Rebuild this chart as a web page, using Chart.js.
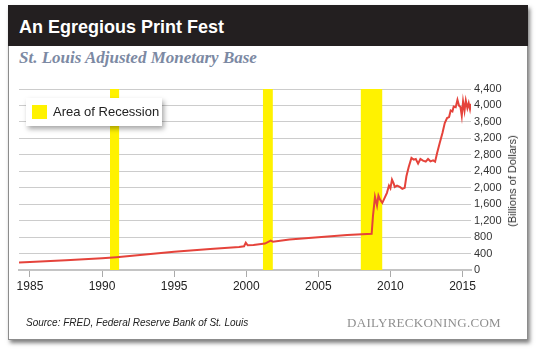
<!DOCTYPE html>
<html>
<head>
<meta charset="utf-8">
<script src="https://cdn.jsdelivr.net/npm/chart.js@4/dist/chart.umd.min.js"></script>
<style>
body { margin:0; background:#fff; width:540px; height:351px; position:relative; overflow:hidden; font-family:'Liberation Sans', Arial, sans-serif; }
.frame { position:absolute; left:8px; top:5px; width:518px; height:333px; background:#fff; border:1px solid #8c8c8c; box-shadow:2px 3px 4px rgba(0,0,0,0.5); }
.header { position:absolute; left:8px; top:5px; width:520px; height:41px; background:#231f20; }
.title { position:absolute; left:19px; top:17px; color:#fff; font:bold 18px 'Liberation Sans', Arial, sans-serif; white-space:nowrap; }
.subtitle { position:absolute; left:19px; top:48px; color:#7c89a3; font:italic bold 17px 'Liberation Serif', 'DejaVu Serif', serif; white-space:nowrap; }
#chart { position:absolute; left:0; top:0; }
.legend { position:absolute; left:26px; top:98px; width:136px; height:28px; background:#fff; box-shadow:2px 3px 5px rgba(0,0,0,0.35); }
.legend .sw { position:absolute; left:6px; top:7px; width:15px; height:14px; background:#fff200; }
.legend .lb { position:absolute; left:27px; top:6px; font-size:13px; color:#222; white-space:nowrap; }
.ytitle { position:absolute; left:512px; top:181px; transform:translate(-50%,-50%) rotate(-90deg); font-size:11px; color:#333; white-space:nowrap; }
.source { position:absolute; left:26px; top:317px; font:italic 10px 'Liberation Sans', Arial, sans-serif; color:#222; white-space:nowrap; }
.brand { position:absolute; left:347px; top:315px; font:13px 'Liberation Serif', 'DejaVu Serif', serif; color:#8f8f8f; letter-spacing:0.3px; white-space:nowrap; }
</style>
</head>
<body>
<div class="frame"></div>
<div class="header"></div>
<div class="title">An Egregious Print Fest</div>
<div class="subtitle">St. Louis Adjusted Monetary Base</div>
<canvas id="chart" width="540" height="351"></canvas>
<div class="legend"><div class="sw"></div><div class="lb">Area of Recession</div></div>
<div class="ytitle">(Billions of Dollars)</div>
<div class="source">Source: FRED, Federal Reserve Bank of St. Louis</div>
<div class="brand">DAILYRECKONING.COM</div>
<script>
// monetary base, billions of dollars
const years = [1984.24, 1985.0, 1987.5, 1990.0, 1991.0, 1993.0, 1995.0, 1997.5, 1999.5, 1999.85, 1999.97, 2000.1, 2000.5,
  2001.3, 2001.7, 2001.85, 2003.0, 2005.0, 2007.0, 2008.7, 2008.79, 2008.93, 2009.07, 2009.17, 2009.28, 2009.44,
  2009.6, 2009.76, 2009.9, 2010.0, 2010.11, 2010.23, 2010.3, 2010.46, 2010.65, 2010.83, 2010.99, 2011.11, 2011.27,
  2011.46, 2011.62, 2011.76, 2011.92, 2012.08, 2012.26, 2012.45, 2012.61, 2012.78, 2012.96, 2013.1, 2013.24, 2013.42,
  2013.61, 2013.77, 2013.93, 2014.07, 2014.18, 2014.3, 2014.39, 2014.53, 2014.65, 2014.76, 2014.86, 2014.95, 2015.04,
  2015.14, 2015.23, 2015.34, 2015.43, 2015.52, 2015.58];
const baseValues = [180, 196, 240, 287, 312, 375, 444, 509, 560, 578, 662, 600, 606,
  643, 712, 688, 740, 798, 850, 880, 1309, 1778, 1568, 1810, 1713, 1632,
  1753, 1875, 2052, 1988, 2198, 2101, 2020, 2052, 2020, 1972, 1996, 2279, 2505,
  2723, 2683, 2699, 2586, 2699, 2658, 2634, 2699, 2642, 2666, 2634, 2844, 3087,
  3329, 3571, 3693, 3717, 3878, 3854, 3975, 3959, 4137, 3992, 3960, 3749, 4097,
  3870, 4121, 3935, 4056, 3911, 4040];

const recessionStart = [1990.55, 2001.15, 2007.93];
const recessionEnd = [1991.2, 2001.85, 2009.45];

const xTickYears = [1985, 1990, 1995, 2000, 2005, 2010, 2015];
const yTickValues = [0, 400, 800, 1200, 1600, 2000, 2400, 2800, 3200, 3600, 4000, 4400];

const xMin = 1984.24, xMax = 2015.59;
const yMax = 4400;

let datasets = [{
  label: 'Monetary Base',
  data: years.map((y, i) => ({x: y, y: baseValues[i]})),
  borderColor: '#e5433b',
  borderWidth: 2,
  pointRadius: 0,
  tension: 0,
  fill: false,
  order: 0
}];
for (let i = 0; i < recessionStart.length; i++) {
  datasets.push({
    label: 'Area of Recession',
    data: [{x: recessionStart[i], y: yMax}, {x: recessionEnd[i], y: yMax}],
    borderWidth: 0,
    borderColor: 'rgba(0,0,0,0)',
    backgroundColor: '#fff200',
    pointRadius: 0,
    fill: 'origin',
    order: 1
  });
}

Chart.defaults.font.family = "'Liberation Sans', Arial, sans-serif";
Chart.defaults.color = '#222';

const ctx = document.getElementById('chart');
new Chart(ctx, {
  type: 'line',
  data: { datasets: datasets },
  options: {
    responsive: false,
    animation: false,
    devicePixelRatio: 1,
    layout: { padding: { left: 19, top: 89, right: 29, bottom: 41 } },
    plugins: { legend: { display: false }, tooltip: { enabled: false } },
    scales: {
      x: {
        type: 'linear',
        position: 'bottom',
        min: xMin,
        max: xMax,
        afterBuildTicks: s => { s.ticks = xTickYears.map(v => ({value: v})); },
        afterFit: s => { s.height = 40; },
        ticks: {
          autoSkip: false,
          maxRotation: 0,
          padding: 2,
          font: { size: 12 },
          color: '#222',
          callback: v => String(v)
        },
        grid: {
          drawOnChartArea: false,
          drawTicks: true,
          tickLength: 7,
          color: '#aaaaaa'
        },
        border: { display: true, color: '#c4c4c4', width: 2 }
      },
      y: {
        position: 'right',
        min: 0,
        max: yMax,
        afterBuildTicks: s => { s.ticks = yTickValues.map(v => ({value: v})); },
        afterFit: s => { s.width = 40; },
        ticks: {
          padding: 3,
          font: { size: 11 },
          color: '#333',
          callback: v => v.toLocaleString('en-US')
        },
        grid: { color: '#cccccc', lineWidth: 1, drawTicks: false },
        border: { display: false }
      }
    }
  }
});
</script>
</body>
</html>
